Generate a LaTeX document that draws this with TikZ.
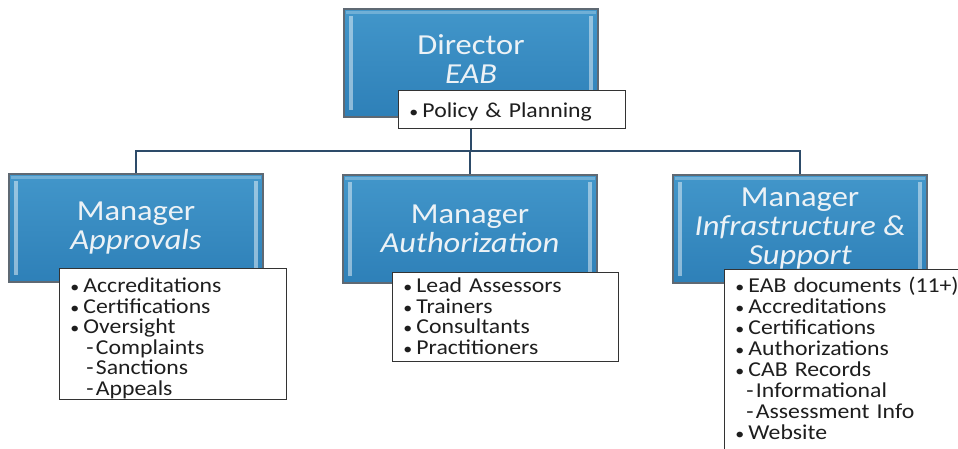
\documentclass[tikz,border=0pt]{standalone}
\usepackage{fontspec}
\setmainfont{Carlito}[FakeStretch=1.12]
\definecolor{boxtop}{RGB}{66,150,202}
\definecolor{boxbot}{RGB}{46,128,184}
\definecolor{boxedge}{RGB}{95,105,115}
\definecolor{boxtext}{RGB}{236,242,246}
\definecolor{conncol}{RGB}{45,75,105}
\definecolor{listtext}{RGB}{30,30,30}
\pgfdeclarelayer{background}
\pgfsetlayers{background,main}
\lineskiplimit=-20pt
\tikzset{
  mgr/.style={draw=boxedge, line width=1.6pt, top color=boxtop, bottom color=boxbot,
    minimum width=254pt, minimum height=108pt, text=boxtext, inner sep=0pt,
    font=\fontsize{29}{29}\selectfont, align=center,
    path picture={
      \fill[white, opacity=0.45] ([xshift=5pt,yshift=-7pt]path picture bounding box.north west) rectangle ([xshift=9pt,yshift=7pt]path picture bounding box.south west);
      \fill[white, opacity=0.45] ([xshift=-9pt,yshift=-7pt]path picture bounding box.north east) rectangle ([xshift=-5pt,yshift=7pt]path picture bounding box.south east);
      \fill[white, opacity=0.25] ([xshift=2pt,yshift=-2pt]path picture bounding box.north west) rectangle ([xshift=-2pt,yshift=-5pt]path picture bounding box.north east);
    }},
  listbox/.style={draw=black!80, line width=0.9pt, fill=white, anchor=north west,
    inner xsep=7pt, inner ysep=0pt, align=left, text=listtext,
    font=\fontsize{21.2}{20.6}\selectfont},
  conn/.style={draw=conncol, line width=2.6pt},
}
\newcommand{\itm}[1]{\makebox[17pt]{\fontsize{16}{16}\selectfont•}#1}
\newcommand{\subitm}[2][20pt]{\hspace*{#1}\makebox[9.5pt][l]{-}#2}
\newcommand{\tstrut}[1]{\rule{0pt}{#1}}
\newcommand{\bstrut}[1]{\rule[-#1]{0pt}{#1}}
\begin{document}
\begin{tikzpicture}[x=1pt,y=-1pt]
\useasboundingbox (0,0) rectangle (958,448);
% manager and director boxes
\node[mgr] (dir) at (471,63) {Director\\\textit{EAB}\bstrut{7pt}};
\node[mgr] (app) at (136,228) {Manager\\\textit{Approvals}};
\node[mgr] (auth) at (470,229) {Manager\\\textit{Authorization}};
\node[mgr] (inf) at (800,229) {Manager\\\textit{Infrastructure \&}\\\textit{Support}};
% lists
\node[listbox, text width=213pt] (pol) at (398,90) {\tstrut{27pt}\itm{Policy \& Planning}\bstrut{11pt}};
\node[listbox, text width=213pt] (appl) at (59,268)
  {\tstrut{24pt}\itm{Accreditations}\\\itm{Certifications}\\\itm{Oversight}\\\subitm{Complaints}\\\subitm{Sanctions}\\\subitm{Appeals}\bstrut{4pt}};
\node[listbox, text width=212pt] (authl) at (392,272)
  {\tstrut{20pt}\itm{Lead Assessors}\\\itm{Trainers}\\\itm{Consultants}\\\itm{Practitioners}\bstrut{7.5pt}};
\node[listbox, text width=231pt, font=\fontsize{21.2}{20.95}\selectfont] (infl) at (724,269)
  {\tstrut{23pt}\itm{EAB documents (11+)}\\\itm{Accreditations}\\\itm{Certifications}\\\itm{Authorizations}\\\itm{CAB Records}\\\subitm[15pt]{Informational}\\\subitm[15pt]{Assessment Info}\\\itm{Website}\bstrut{12pt}};
% connectors
\coordinate (bus) at (0,151);
\begin{pgfonlayer}{background}
\draw[conn] (pol.south -| dir.center) -- (bus -| dir.center);
\draw[conn] (app.north) -- (app.north |- bus) -- (inf.north |- bus) -- (inf.north);
\draw[conn] (auth.north) -- (auth.north |- bus);
\end{pgfonlayer}
\end{tikzpicture}
\end{document}
